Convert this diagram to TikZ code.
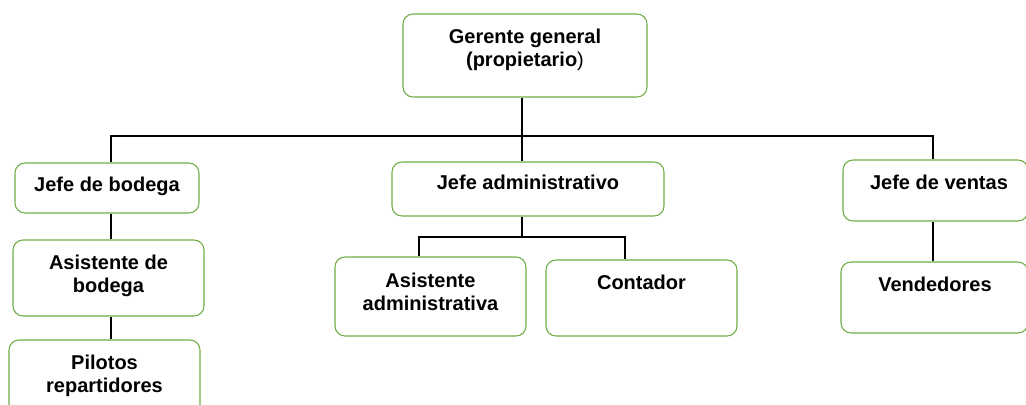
\documentclass[tikz,border=0pt]{standalone}
\usepackage{fontspec}
\setmainfont{Liberation Sans}
\usetikzlibrary{fit,positioning}
\definecolor{boxgreen}{RGB}{112,173,71}

\begin{document}
\begin{tikzpicture}
      [x=0.75pt,y=-0.75pt,
        box/.style={draw=boxgreen,line width=0.8pt,rounded corners=7.5pt,inner sep=0pt},
        lbl/.style={font=\fontsize{15}{17.25}\selectfont\bfseries,align=center,inner sep=0pt,anchor=north},
        link/.style={line width=1.5pt}]
      \useasboundingbox (0,0) rectangle (1026,404);
      \clip (0,0) rectangle (1026,404);
      % boxes
      \node[box,fit={(403,14) (647,97)}] (ger) {};
      \node[box,fit={(15,163) (199,213)}] (jbod) {};
      \node[box,fit={(13,240) (204,316)}] (asb) {};
      \node[box,fit={(9,340) (200,420)}] (pil) {};
      \node[box,fit={(392,162) (664,216)}] (jadm) {};
      \node[box,fit={(335,257) (526,336)}] (asa) {};
      \node[box,fit={(546,260) (737,336)}] (cont) {};
      \node[box,fit={(843,160) (1028,221)}] (jven) {};
      \node[box,fit={(841,262) (1028,333)}] (vend) {};
      % labels
      \node[lbl] (gerT) at (525,29) {Gerente general\\(propietario{\mdseries)}};
      \node[lbl] (jbodT) at (107,177) {Jefe de bodega};
      \node[lbl] (asbT) at (108.5,255) {Asistente de\\bodega};
      \node[lbl] (pilT) at (104.5,355) {Pilotos\\repartidores};
      \node[lbl] (jadmT) at (528,175) {Jefe administrativo};
      \node[lbl] (asaT) at (430.5,273) {Asistente\\administrativa};
      \node[lbl] (contT) at (641.5,275) {Contador};
      \node[lbl] (jvenT) at (939,175) {Jefe de ventas};
      \node[lbl] (vendT) at (935,277) {Vendedores};
      % connectors
      \coordinate (tap) at (522,136);
      \coordinate (busL) at (111,136);
      \coordinate (busR) at (933,136);
      \coordinate (sub) at (522,237);
      \coordinate (subL) at (419,237);
      \coordinate (subR) at (625,237);
      \draw[link] (ger.south -| tap) -- (tap);
      \draw[link] (jbod.north -| busL) -- (busL) -- (busR) -- (jven.north -| busR);
      \draw[link] (tap) -- (jadm.north -| tap);
      \draw[link] (jbod.south -| busL) -- (asb.north -| busL);
      \draw[link] (asb.south -| busL) -- (pil.north -| busL);
      \draw[link] (jadm.south -| sub) -- (sub);
      \draw[link] (asa.north -| subL) -- (subL) -- (subR) -- (cont.north -| subR);
      \draw[link] (jven.south -| busR) -- (vend.north -| busR);
    \end{tikzpicture}
\end{document}
